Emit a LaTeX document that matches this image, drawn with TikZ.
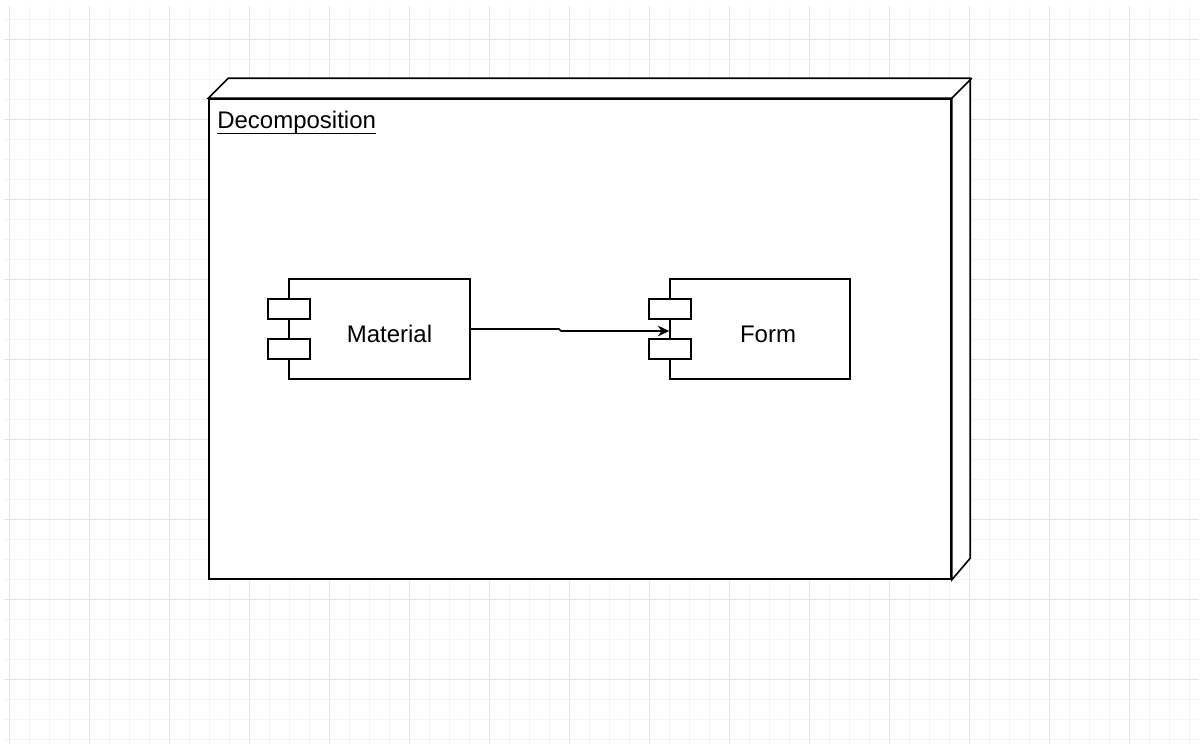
\documentclass[tikz,border=0pt]{standalone}
\usepackage{fontspec}
\setmainfont{Liberation Sans}
\usetikzlibrary{arrows.meta}
\newdimen\pu
\pu=0.75pt
\begin{document}
\begin{tikzpicture}[x=0.75pt,y=-0.75pt,
  minorgrid/.style={draw=black!4, line width=0.75pt},
  majorgrid/.style={draw=black!11, line width=0.75pt},
  box/.style={draw=black, fill=white, line width=1.2pt},
  port/.style={draw=black, fill=white, line width=1.2pt, minimum width=42*\pu, minimum height=20*\pu, inner sep=0pt},
  comp/.style={draw=black, fill=white, line width=1.2pt, minimum width=181*\pu, minimum height=100*\pu, inner sep=0pt},
  lbl/.style={font=\fontsize{18}{20}\selectfont, inner sep=0pt}]
\useasboundingbox (0,0) rectangle (1204,744);
\fill[white] (0,0) rectangle (1204,744);
% grid
\foreach \x in {9,29,...,1189} \draw[minorgrid] (\x,6) -- (\x,744);
\foreach \y in {19,39,...,739} \draw[minorgrid] (4,\y) -- (1199,\y);
\foreach \x in {9,89,...,1129} \draw[majorgrid] (\x,6) -- (\x,744);
\foreach \y in {39,119,...,679} \draw[majorgrid] (4,\y) -- (1199,\y);
% 3D node
\node[draw=black, fill=white, line width=1.2pt, minimum width=742*\pu, minimum height=480*\pu, inner sep=0pt] (deco) at (580,339) {};
\draw[box, line join=miter] (deco.north west) -- ++(20,-20) -- ++(742,0) -- ++(0,480) -- (deco.south east) -- (deco.north east) -- cycle;
\draw[line width=1.2pt] (deco.north east) -- ++(20,-20);
\node[lbl, anchor=base west] (dl) at (217,128) {Decomposition};
\draw[line width=1pt] ([yshift=-4pt]dl.base west) -- ([yshift=-4pt]dl.base east);
% Material component
\node[comp] (mat) at (379.5,329) {};
\node[port] (matp1) at (289,309) {};
\node[port] (matp2) at (289,349) {};
\node[lbl, anchor=base] (matl) at (389.5,342) {Material};
% Form component
\node[comp, minimum width=180*\pu] (frm) at (760,329) {};
\node[port] (frmp1) at (670,309) {};
\node[port] (frmp2) at (670,349) {};
\node[lbl, anchor=base] (frml) at (768,342) {Form};
% connector
\draw[line width=1.2pt, -{Stealth[length=8.5pt, width=8pt]}] (mat.east) -- (559,329) -- (561,331) -- ([yshift=-1.5pt]frm.west);
\end{tikzpicture}
\end{document}
